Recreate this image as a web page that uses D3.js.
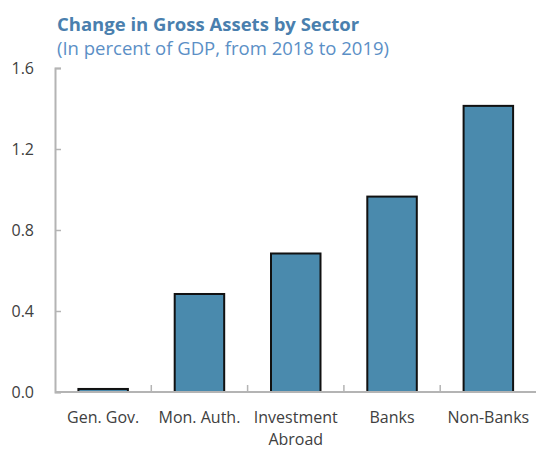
<!DOCTYPE html>
<html><head><meta charset="utf-8">
<script src="https://cdn.jsdelivr.net/npm/d3@7"></script>
<style>body{margin:0;background:#fff;} svg{display:block;}</style>
</head><body>
<svg id="c" width="536" height="449"></svg>
<script>
const categories = [["Gen. Gov."], ["Mon. Auth."], ["Investment", "Abroad"], ["Banks"], ["Non-Banks"]];
const values = [0.015, 0.484, 0.684, 0.965, 1.413];
const yTicks = [0.0, 0.4, 0.8, 1.2, 1.6];
const title = "Change in Gross Assets by Sector";
const subtitle = "(In percent of GDP, from 2018 to 2019)";

const svg = d3.select("#c");
const m = {left: 55, right: 0, top: 68, bottom: 57};
const W = 536, H = 449;
const x = d3.scaleBand().domain(categories.map((d,i)=>i)).range([m.left, W - m.right + 0.5])
  .paddingInner(0.486).paddingOuter(0.243);
const y = d3.scaleLinear().domain([0, 1.6]).range([H - m.bottom, m.top]);
const font = "'Open Sans', sans-serif";

svg.append("text").attr("x", 57).attr("y", 31).attr("fill", "#4a7fae")
  .style("font-family", font).style("font-weight", "bold").style("font-size", "18.5px")
  .text(title);
svg.append("text").attr("x", 57).attr("y", 55).attr("fill", "#5b8fc6")
  .style("font-family", font).style("font-size", "18.5px")
  .text(subtitle);

// y axis
const ya = svg.append("g").attr("transform", `translate(${m.left},0)`)
  .call(d3.axisRight(y).tickValues(yTicks).tickSize(6).tickFormat(d3.format(".1f")));
ya.select(".domain").attr("stroke", "#b4b4b4").attr("stroke-width", 2);
ya.selectAll(".tick line").attr("stroke", "#b4b4b4").attr("stroke-width", 1.5);
ya.selectAll(".tick text").attr("x", -21).attr("text-anchor", "end")
  .attr("fill", "#404040").style("font-family", font).style("font-size", "16px");

// bars
svg.append("g").selectAll("rect").data(values).join("rect")
  .attr("x", (d,i)=>x(i)).attr("width", x.bandwidth())
  .attr("y", d=>y(d)).attr("height", d=>y(0)-y(d))
  .attr("fill", "#4a8aad").attr("stroke", "#111").attr("stroke-width", 2);

// x axis
const xa = svg.append("g");
xa.append("line").attr("x1", m.left).attr("x2", W).attr("y1", y(0)).attr("y2", y(0))
  .attr("stroke", "#b4b4b4").attr("stroke-width", 2);
const step = x.step();
xa.selectAll("line.t").data(d3.range(1, categories.length)).join("line").attr("class","t")
  .attr("x1", i=>m.left + i*step).attr("x2", i=>m.left + i*step)
  .attr("y1", y(0)).attr("y2", y(0)-7).attr("stroke", "#b4b4b4").attr("stroke-width", 1.5);
xa.selectAll("text").data(categories).join("text")
  .attr("x", (d,i)=>x(i)+x.bandwidth()/2).attr("y", 423)
  .attr("text-anchor", "middle").attr("fill", "#404040")
  .style("font-family", font).style("font-size", "16px")
  .selectAll("tspan").data(d=>d).join("tspan")
  .attr("x", function(){return this.parentNode.getAttribute("x");})
  .attr("dy", (d,j)=>j===0?0:22).text(d=>d);
</script>
</body></html>
